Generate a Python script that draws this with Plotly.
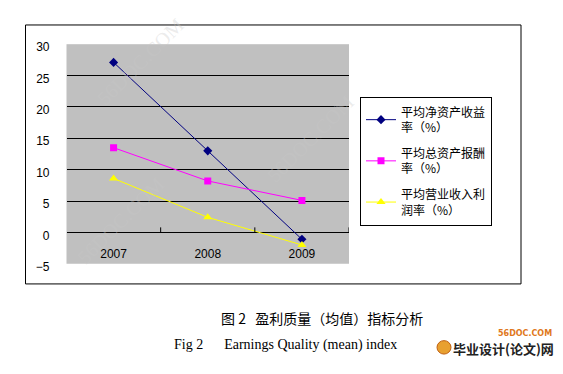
import plotly.graph_objects as go

years = ["2007", "2008", "2009"]
roe = [27.1, 13.0, -1.1]        # 平均净资产收益率（%）
roa = [13.5, 8.2, 5.1]          # 平均总资产报酬率（%）
opm = [8.6, 2.4, -2.0]          # 平均营业收入利润率（%）
names = ["平均净资产收益<br>率（%）", "平均总资产报酬<br>率（%）", "平均营业收入利<br>润率（%）"]
y_ticks = [-5, 0, 5, 10, 15, 20, 25, 30]

# the page body has an 8px margin on every side; keep the figure inside the window
OFF = 8
W, H = 563 - 2 * OFF, 374 - 2 * OFF
def px(x): return (x - OFF) / W
def py(y): return 1 - (y - OFF) / H

fig = go.Figure()
styles = [
    dict(color="#000080", symbol="diamond", size=7),
    dict(color="#FF00FF", symbol="square", size=7),
    dict(color="#FFFF00", symbol="triangle-up", size=8),
]
for i, (vals, nm, st) in enumerate(zip([roe, roa, opm], names, styles)):
    fig.add_trace(go.Scatter(
        x=years, y=vals, name=nm, mode="lines+markers", legendgroup=f"g{i}",
        line=dict(color=st["color"], width=1),
        marker=dict(color=st["color"], symbol=st["symbol"], size=st["size"],
                    line=dict(width=0)),
    ))

CJK = "Noto Sans CJK SC"
fig.update_layout(
    width=W, height=H,
    margin=dict(l=0, r=0, t=0, b=0),
    paper_bgcolor="white",
    plot_bgcolor="#C0C0C0",
    showlegend=True,
    legend=dict(
        x=px(360), y=py(96), xanchor="left", yanchor="top",
        bgcolor="white", bordercolor="black", borderwidth=1,
        font=dict(family=CJK, size=12, color="black"),
        entrywidth=117, entrywidthmode="pixels",
        tracegroupgap=7, itemwidth=30,
    ),
    xaxis=dict(
        domain=[px(66.5), px(349)],
        type="category",
        showgrid=False, zeroline=False, showline=False,
        ticks="", ticklabelposition="outside", ticklabelstandoff=-19,
        tickfont=dict(family="Liberation Sans", size=12, color="black"),
        range=[-0.5, 2.5],
    ),
    yaxis=dict(
        domain=[py(270), py(41.5)],
        range=[-5, 30],
        tickvals=y_ticks,
        showgrid=True, gridcolor="black", gridwidth=1,
        zeroline=True, zerolinecolor="black", zerolinewidth=1,
        showline=False, ticks="",
        ticklabelstandoff=16, ticklabelshift=3,
        tickfont=dict(family="Liberation Sans", size=12, color="black"),
    ),
)

shapes = [
    dict(type="rect", xref="paper", yref="paper",
         x0=px(25.5), x1=px(521), y0=py(291), y1=py(21.5),
         line=dict(color="black", width=1), fillcolor="rgba(0,0,0,0)", layer="below"),
]
for xv in [0.5, 1.5, 2.5]:
    shapes.append(dict(type="line", xref="x", yref="y", x0=xv, x1=xv, y0=0, y1=0.8,
                       line=dict(color="black", width=1)))
shapes.append(dict(type="circle", xref="paper", yref="paper",
                   x0=px(437), x1=px(451), y0=py(364), y1=py(350),
                   fillcolor="#E8A030", line=dict(color="#C06010", width=1)))
fig.update_layout(shapes=shapes)

ann = [
    dict(text="图 2   盈利质量（均值）指标分析", x=px(322), y=py(326),
         font=dict(family=CJK, size=14, color="black")),
    dict(text="Fig 2      Earnings Quality (mean) index", x=px(172), y=py(355),
         xanchor="left", font=dict(family="Liberation Serif", size=14, color="black")),
    dict(text="<b>56DOC.COM</b>", x=px(554), y=py(343), xanchor="right",
         font=dict(family="DejaVu Sans", size=8, color="#E07820")),
    dict(text="<b>毕业设计(论文)网</b>", x=px(503), y=py(358),
         font=dict(family=CJK, size=13, color="#222222")),
]
wm = [(140, 60), (310, 140), (120, 225)]
for (wx, wy) in wm:
    ann.append(dict(text="56DOC.COM", x=px(wx), y=py(wy), textangle=-45,
                    font=dict(family="Liberation Serif", size=20, color="rgba(200,200,200,0.35)")))
for a in ann:
    a.setdefault("xref", "paper"); a.setdefault("yref", "paper")
    a.setdefault("showarrow", False)
    a.setdefault("xanchor", "center"); a.setdefault("yanchor", "middle")
fig.update_layout(annotations=ann)

fig.write_html("out.html")
